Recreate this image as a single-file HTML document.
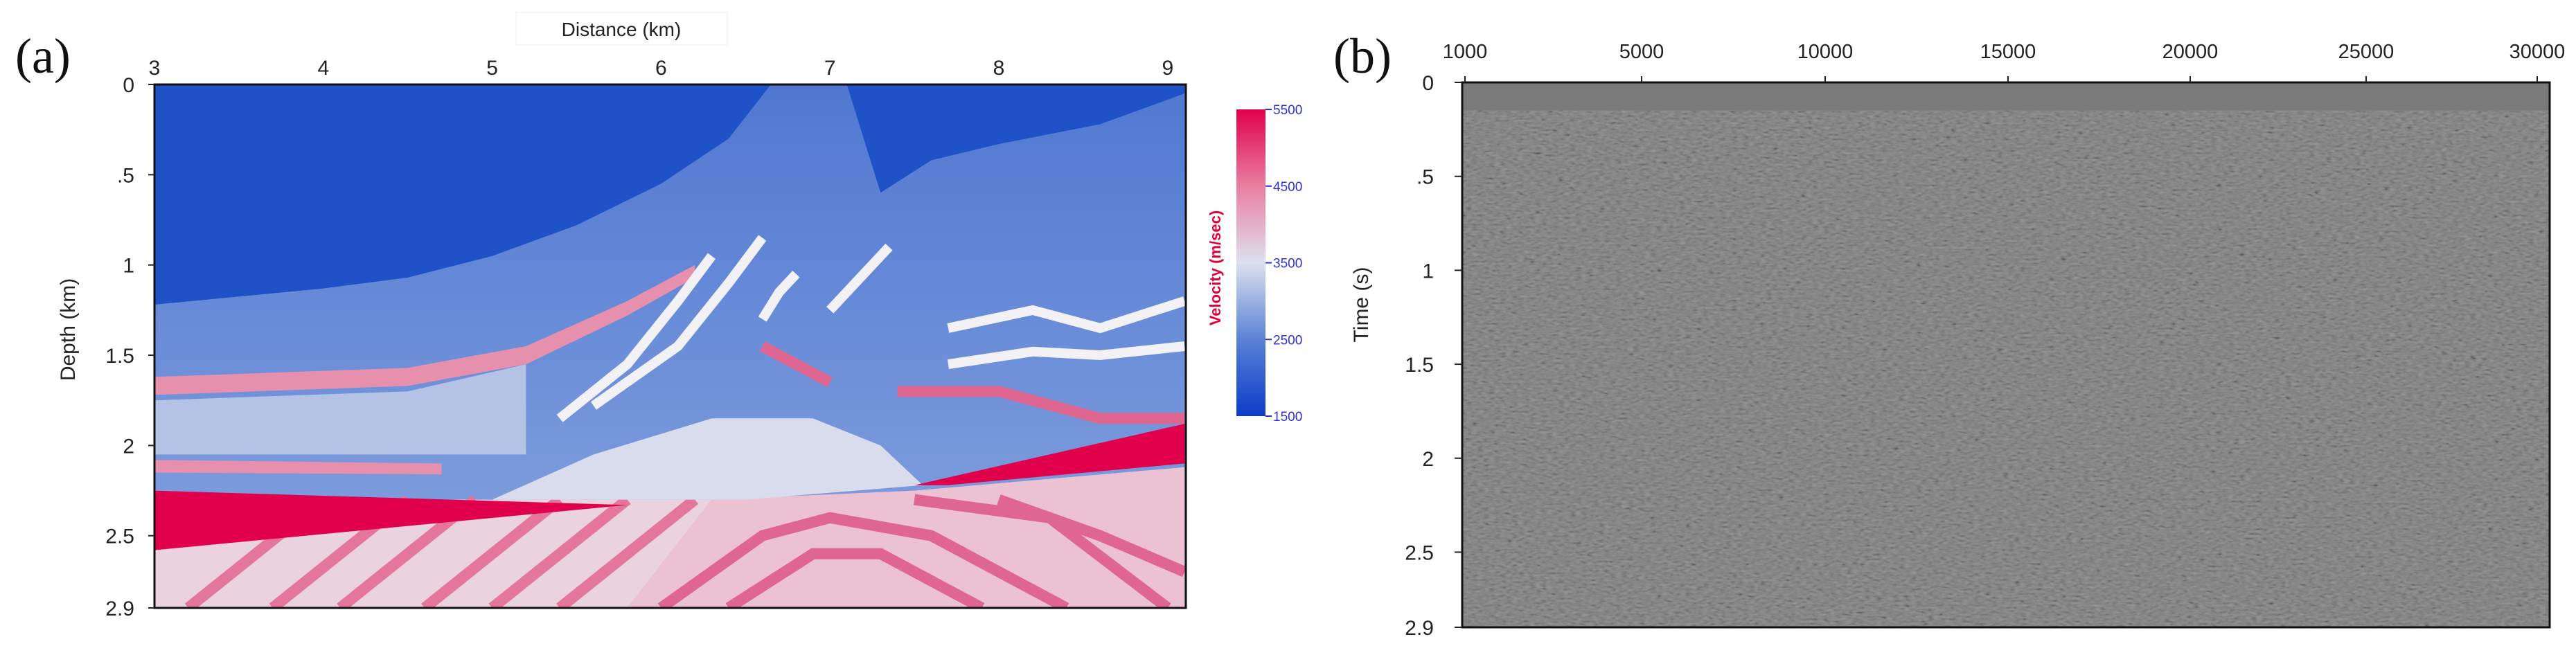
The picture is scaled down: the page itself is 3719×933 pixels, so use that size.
<!DOCTYPE html>
<html><head><meta charset="utf-8">
<style>
html,body{margin:0;padding:0;background:#fff;}
svg{display:block;font-family:"Liberation Sans",sans-serif;}
</style></head>
<body>
<svg id="fig" width="3719" height="933" viewBox="0 0 3719 933" xmlns="http://www.w3.org/2000/svg">
<defs>
<linearGradient id="cbar" x1="0" y1="1" x2="0" y2="0">
<stop offset="0" stop-color="#0b3cc9"/>
<stop offset="0.25" stop-color="#5a82d6"/>
<stop offset="0.5" stop-color="#dde0ee"/>
<stop offset="0.75" stop-color="#ea7fa2"/>
<stop offset="1" stop-color="#e0004c"/>
</linearGradient>
<linearGradient id="midBlue" x1="0" y1="0" x2="0" y2="1">
<stop offset="0" stop-color="#4f78d2"/>
<stop offset="1" stop-color="#88a4df"/>
</linearGradient>
<filter id="noise" x="0" y="0" width="100%" height="100%">
<feTurbulence type="fractalNoise" baseFrequency="0.12 0.3" numOctaves="2" seed="4"/>
<feColorMatrix type="matrix" values="0.33 0.33 0.33 0 0  0.33 0.33 0.33 0 0  0.33 0.33 0.33 0 0  0 0 0 0 1"/>
<feComponentTransfer><feFuncR type="linear" slope="2.0" intercept="-0.53"/><feFuncG type="linear" slope="2.0" intercept="-0.53"/><feFuncB type="linear" slope="2.0" intercept="-0.53"/></feComponentTransfer>
</filter>
<clipPath id="clipA"><rect x="223" y="122" width="1489" height="756"/></clipPath>
</defs>
<g id="panelA"></g>
<g id="panelB"></g>
</svg>
<script>
// ---------- Panel A data ----------
const distTicks = [3,4,5,6,7,8,9];
const depthTicks = [0,0.5,1,1.5,2,2.5,2.9];
const depthTickLabels = ["0",".5","1","1.5","2","2.5","2.9"];
const cbarValues = [1500,2500,3500,4500,5500];
const darkTopLeft = [[3,0],[6.65,0],[6.4,0.3],[6.0,0.55],[5.5,0.78],[5,0.95],[4.5,1.07],[4,1.13],[3,1.22]];
const darkTopRight = [[7.1,0],[9.1,0],[9.1,0.05],[8.6,0.22],[8,0.33],[7.6,0.42],[7.3,0.6]];
const lightBlueLeft = [[3,1.75],[4.5,1.7],[5.2,1.55],[5.2,2.05],[4.5,2.05],[3,2.05]];
const pinkBandLeft = [[3,1.62],[4.5,1.57],[5.2,1.45],[5.8,1.2],[6.2,1.0],[6.2,1.07],[5.8,1.28],[5.2,1.55],[4.5,1.67],[3,1.72]];
const pinkBandLeft2 = [[3,2.08],[4.7,2.1],[4.7,2.16],[3,2.15]];
const domeLight = [[5.0,2.3],[5.6,2.05],[6.3,1.85],[6.9,1.85],[7.3,2.0],[7.55,2.22],[6.5,2.3]];
const redWedgeLeft = [[3,2.25],[5.8,2.33],[3,2.58]];
const redWedgeRight = [[7.5,2.22],[9.1,1.88],[9.1,2.1],[7.7,2.22]];
const lowerLeft = [[3,2.3],[6.3,2.3],[5.8,2.9],[3,2.9]];
const lowerRight = [[6.3,2.3],[7.5,2.25],[9.1,2.12],[9.1,2.9],[5.8,2.9]];
const whiteArcs = [
 [[5.4,1.85],[5.8,1.55],[6.1,1.2],[6.3,0.95]],
 [[5.6,1.78],[6.1,1.45],[6.4,1.1],[6.6,0.85]],
 [[6.6,1.3],[6.7,1.15],[6.8,1.05]],
 [[7.0,1.25],[7.2,1.05],[7.35,0.9]],
 [[7.7,1.35],[8.2,1.25],[8.6,1.35],[9.1,1.2]],
 [[7.7,1.55],[8.2,1.48],[8.6,1.5],[9.1,1.45]]
];
const pinkArcs = [
 [[7.4,1.7],[8,1.7],[8.6,1.85],[9.1,1.85]],
 [[6.6,1.45],[6.8,1.55],[7.0,1.65]],
 [[6.0,2.9],[6.6,2.5],[7.0,2.4],[7.6,2.5],[8.4,2.9]],
 [[6.4,2.9],[6.9,2.6],[7.3,2.6],[7.9,2.9]],
 [[7.5,2.3],[8.3,2.4],[9.0,2.9]],
 [[8.0,2.3],[8.6,2.5],[9.1,2.7]]
];
const diagStripes = [3.2,3.7,4.1,4.6,5.0,5.4,5.9];

// ---------- Panel B data ----------
const offsetTickLabels = ["1000","5000","10000","15000","20000","25000","30000"];
const offsetTickValues = [1000,5000,10000,15000,20000,25000,30000];
const timeTicks = [0,0.5,1,1.5,2,2.5,2.9];
const timeTickLabels = ["0",".5","1","1.5","2","2.5","2.9"];

const NS="http://www.w3.org/2000/svg";
function mk(tag,attrs,parent,text){const e=document.createElementNS(NS,tag);for(const k in attrs)e.setAttribute(k,attrs[k]);if(text!==undefined)e.textContent=text;parent.appendChild(e);return e;}

// ---------- Panel A ----------
const A=document.getElementById('panelA');
const ax0=223, ax1=1712, ay0=122, ay1=878;
const xA = d => 223 + (d-3)*243.8;
const yA = z => ay0 + z*(ay1-ay0)/2.9;
const pts = arr => arr.map(p=>xA(p[0]).toFixed(1)+","+yA(p[1]).toFixed(1)).join(" ");
const pathOf = arr => "M"+arr.map(p=>xA(p[0]).toFixed(1)+" "+yA(p[1]).toFixed(1)).join(" L");

const plot=mk('g',{'clip-path':'url(#clipA)'},A);


mk('rect',{x:ax0,y:ay0,width:ax1-ax0,height:ay1-ay0,fill:'url(#midBlue)'},plot);
let e;
e=mk('polygon',{points:pts(lightBlueLeft),fill:'#b3c2e5'},plot);

e=mk('polygon',{points:pts(lowerLeft),fill:'#ead3de'},plot);

diagStripes.forEach(s=>{
 const el=mk('path',{d:pathOf([[s,2.9],[s+0.8,2.3]]),stroke:'#e4769b','stroke-width':16,fill:'none'},plot);
 
});
e=mk('polygon',{points:pts(lowerRight),fill:'#ecc2d2'},plot);

e=mk('polygon',{points:pts(domeLight),fill:'#d9dcec'},plot);

e=mk('polygon',{points:pts(darkTopLeft),fill:'#1f52c6'},plot);

e=mk('polygon',{points:pts(darkTopRight),fill:'#1f52c6'},plot);

e=mk('polygon',{points:pts(pinkBandLeft),fill:'#e690ae'},plot);

e=mk('polygon',{points:pts(pinkBandLeft2),fill:'#e690ae'},plot);

whiteArcs.forEach(a=>{
 const el=mk('path',{d:pathOf(a),stroke:'#f1f1f6','stroke-width':14,fill:'none'},plot);
 
});
pinkArcs.forEach(a=>{
 const el=mk('path',{d:pathOf(a),stroke:'#df6690','stroke-width':16,fill:'none'},plot);
 
});
e=mk('polygon',{points:pts(redWedgeLeft),fill:'#e1004b'},plot);

e=mk('polygon',{points:pts(redWedgeRight),fill:'#e1004b'},plot);

e=mk('rect',{x:ax0,y:ay0,width:ax1-ax0,height:ay1-ay0,fill:'none',stroke:'#111','stroke-width':3},A);


distTicks.forEach(t=>{
 const el=mk('text',{x:xA(t),y:108,'font-size':30,'text-anchor':'middle',fill:'#222'},A,String(t));
 
});
depthTicks.forEach((t,i)=>{
 mk('line',{x1:214,x2:223,y1:yA(t),y2:yA(t),stroke:'#222','stroke-width':2},A);
 const el=mk('text',{x:194,y:yA(t)+11,'font-size':30,'text-anchor':'end',fill:'#222'},A,depthTickLabels[i]);
 
});
mk('rect',{x:745,y:18,width:305,height:47,fill:'#fff',stroke:'#eee'},A);
e=mk('text',{x:897,y:52,'font-size':28,'text-anchor':'middle',fill:'#222'},A,'Distance (km)');

e=mk('text',{x:0,y:0,'font-size':30,'text-anchor':'middle',fill:'#222',transform:'translate(108,476) rotate(-90)'},A,'Depth (km)');

e=mk('text',{x:22,y:105,'font-size':72,'font-family':'Liberation Serif, serif',fill:'#111'},A,'(a)');

const cb0=158, cb1=601;
e=mk('rect',{x:1785,y:cb0,width:42,height:cb1-cb0,fill:'url(#cbar)'},A);

const yC = v => cb1 - (v-1500)/(5500-1500)*(cb1-cb0);
cbarValues.forEach(v=>{
 mk('line',{x1:1827,x2:1836,y1:yC(v),y2:yC(v),stroke:'#3030d0','stroke-width':2},A);
 const el=mk('text',{x:1838,y:yC(v)+7,'font-size':19,fill:'#3030d0'},A,String(v));
 
});
e=mk('text',{x:0,y:0,'font-size':22,'font-weight':'bold','text-anchor':'middle',fill:'#e1003c',transform:'translate(1762,387) rotate(-90)'},A,'Velocity (m/sec)');


// ---------- Panel B ----------
const B=document.getElementById('panelB');
const bx0=2111,bx1=3681,by0=119,by1=906;
const offsetPos=[2115,2370,2635,2899,3162,3416,3663];
const xB = v => {
 for(let i=0;i<offsetTickValues.length-1;i++){
  if(v<=offsetTickValues[i+1]){const a=offsetTickValues[i],b=offsetTickValues[i+1];return offsetPos[i]+(v-a)/(b-a)*(offsetPos[i+1]-offsetPos[i]);}
 }
 return offsetPos[offsetPos.length-1];
};
const yB = t => by0 + t*(by1-by0)/2.9;
e=mk('rect',{x:bx0,y:by0,width:bx1-bx0,height:by1-by0,fill:'#7a7a7a'},B);

e=mk('rect',{x:bx0,y:yB(0.15),width:bx1-bx0,height:by1-yB(0.15),filter:'url(#noise)',opacity:0.22},B);

e=mk('rect',{x:bx0,y:by0,width:bx1-bx0,height:by1-by0,fill:'none',stroke:'#111','stroke-width':3},B);

offsetTickValues.forEach((v,i)=>{
 mk('line',{x1:xB(v),x2:xB(v),y1:by0-9,y2:by0,stroke:'#222','stroke-width':2},B);
 const el=mk('text',{x:xB(v),y:84,'font-size':29,'text-anchor':'middle',fill:'#222'},B,offsetTickLabels[i]);
 
});
timeTicks.forEach((t,i)=>{
 mk('line',{x1:2100,x2:2111,y1:yB(t),y2:yB(t),stroke:'#222','stroke-width':2},B);
 const el=mk('text',{x:2070,y:yB(t)+11,'font-size':30,'text-anchor':'end',fill:'#222'},B,timeTickLabels[i]);
 
});
e=mk('text',{x:0,y:0,'font-size':30,'text-anchor':'middle',fill:'#222',transform:'translate(1975,440) rotate(-90)'},B,'Time (s)');

e=mk('text',{x:1925,y:105,'font-size':72,'font-family':'Liberation Serif, serif',fill:'#111'},B,'(b)');

</script>
</body></html>
